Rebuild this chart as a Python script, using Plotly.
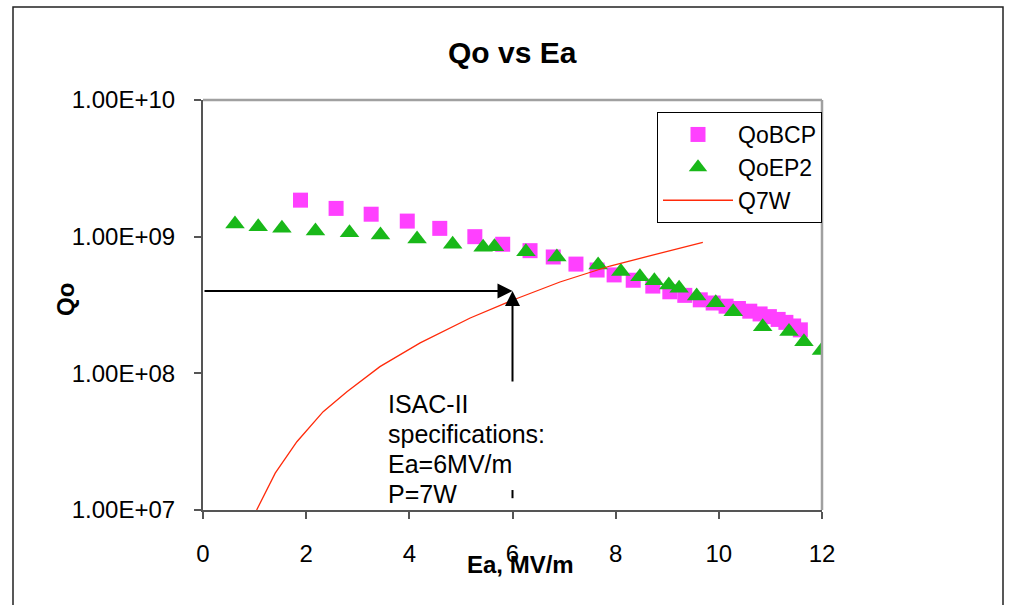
import math
import plotly.graph_objects as go

# ---------------- data ----------------
ea_bcp = [1.89, 2.58, 3.26, 3.96, 4.59, 5.27, 5.81, 6.34, 6.79, 7.23, 7.64, 7.97,
          8.34, 8.72, 9.05, 9.34, 9.64, 9.89, 10.14, 10.38, 10.60, 10.80, 10.98,
          11.15, 11.30, 11.45, 11.58]
qo_bcp = [1.85e9, 1.61e9, 1.46e9, 1.30e9, 1.15e9, 1.00e9, 8.8e8, 7.9e8, 7.1e8,
          6.3e8, 5.7e8, 5.25e8, 4.8e8, 4.35e8, 3.95e8, 3.72e8, 3.45e8, 3.27e8,
          3.1e8, 2.98e8, 2.85e8, 2.72e8, 2.6e8, 2.48e8, 2.36e8, 2.22e8, 2.08e8]

ea_ep2 = [0.62, 1.07, 1.53, 2.18, 2.84, 3.44, 4.15, 4.84, 5.43, 5.65, 6.26, 6.86,
          7.66, 8.10, 8.47, 8.75, 9.03, 9.23, 9.57, 9.94, 10.28, 10.85, 11.36,
          11.65, 11.99]
qo_ep2 = [1.24e9, 1.18e9, 1.15e9, 1.10e9, 1.07e9, 1.03e9, 9.6e8, 8.8e8, 8.35e8,
          8.45e8, 7.75e8, 7.1e8, 6.2e8, 5.55e8, 5.1e8, 4.75e8, 4.43e8, 4.2e8,
          3.68e8, 3.29e8, 2.82e8, 2.19e8, 2.02e8, 1.70e8, 1.47e8]

ea_q7w = [1.04, 1.40, 1.82, 2.33, 2.79, 3.43, 4.21, 5.18, 6.01, 6.92, 7.89, 8.86, 9.69]
qo_q7w = [1.0e7, 1.86e7, 3.16e7, 5.24e7, 7.34e7, 1.12e8, 1.67e8, 2.54e8, 3.44e8,
          4.66e8, 6.10e8, 7.6e8, 9.1e8]

y_tickvals = [1e7, 1e8, 1e9, 1e10]
y_ticktext = ["1.00E+07", "1.00E+08", "1.00E+09", "1.00E+10"]
x_tickvals = [0, 2, 4, 6, 8, 10, 12]

note_lines = ["ISAC-II", "specifications:", "Ea=6MV/m", "P=7W"]

# specification marker (ISAC-II spec)
SPEC_EA = 6.0
SPEC_QO = 4.0e8
ARROW_TAIL_QO = 8.5e7
DASH_QO = [1.22e7, 1.40e7]

FONT = "Liberation Sans, Arial, sans-serif"

fig = go.Figure()

fig.add_trace(go.Scatter(
    x=ea_bcp, y=qo_bcp, mode="markers", name="QoBCP", legendgroup="a",
    marker=dict(symbol="square", size=15, color="#FF40FF"),
))
fig.add_trace(go.Scatter(
    x=ea_ep2, y=qo_ep2, mode="markers", name="QoEP2", legendgroup="b",
    marker=dict(symbol="triangle-up", size=17, color="#19B819"),
))
fig.add_trace(go.Scatter(
    x=ea_q7w, y=qo_q7w, mode="lines", name="Q7W", legendgroup="c",
    line=dict(color="#FF2A0A", width=1.3),
))
# small dash of the vertical spec line near the bottom
fig.add_trace(go.Scatter(
    x=[SPEC_EA, SPEC_EA], y=DASH_QO, mode="lines", showlegend=False,
    line=dict(color="black", width=2), hoverinfo="skip",
))

W, H = 1011, 605
L, R, T, B = 203, 822, 100, 510
pw, ph = R - L, B - T


def px(xp):
    return (xp - L) / pw


def py(yp):
    return (B - yp) / ph


annotations = [
    # horizontal arrow
    dict(x=SPEC_EA, y=math.log10(SPEC_QO), ax=0, ay=math.log10(SPEC_QO),
         xref="x", yref="y", axref="x", ayref="y", text="", showarrow=True,
         arrowhead=2, arrowsize=1.5, arrowwidth=2, arrowcolor="black"),
    # vertical arrow
    dict(x=SPEC_EA, y=math.log10(SPEC_QO), ax=SPEC_EA, ay=math.log10(ARROW_TAIL_QO),
         xref="x", yref="y", axref="x", ayref="y", text="", showarrow=True,
         arrowhead=2, arrowsize=1.5, arrowwidth=2, arrowcolor="black"),
    dict(x=px(65), y=py(300), xref="paper", yref="paper", showarrow=False,
         xanchor="center", yanchor="middle",
         text="<b>Qo</b>", textangle=-90,
         font=dict(family=FONT, size=24, color="black")),
    dict(x=px(520), y=py(564), xref="paper", yref="paper", showarrow=False,
         xanchor="center", yanchor="middle",
         text="<b>Ea, MV/m</b>",
         font=dict(family=FONT, size=24, color="black")),
    dict(x=0.5, y=py(53), xref="paper", yref="paper", showarrow=False,
         xanchor="center", yanchor="middle",
         text="<b>Qo vs Ea</b>",
         font=dict(family=FONT, size=30, color="black")),
]
note_y = [404, 434, 464, 494]
for line_text, yy in zip(note_lines, note_y):
    annotations.append(dict(
        x=px(386), y=py(yy), xref="paper", yref="paper", xanchor="left",
        yanchor="middle", showarrow=False, text=line_text,
        font=dict(family=FONT, size=25, color="black")))

shapes = [
    # outer chart border
    dict(type="rect", xref="paper", yref="paper", x0=px(13), x1=px(1003),
         y0=py(612), y1=py(7), line=dict(color="#222222", width=1.5)),
    # top & right plot-area border (grey)
    dict(type="line", xref="paper", yref="paper", x0=0, x1=1, y0=1, y1=1,
         line=dict(color="#A0A0A0", width=2.5)),
    dict(type="line", xref="paper", yref="paper", x0=1, x1=1, y0=0, y1=1,
         line=dict(color="#A0A0A0", width=2.5)),
]

fig.update_layout(
    width=W, height=H,
    margin=dict(l=L, r=W - R, t=T, b=H - B, pad=0),
    paper_bgcolor="white", plot_bgcolor="white",
    font=dict(family=FONT, size=24, color="black"),
    showlegend=True,
    legend=dict(x=px(657), y=py(112), xanchor="left", yanchor="top",
                bgcolor="white", bordercolor="black", borderwidth=1,
                font=dict(family=FONT, size=23, color="black"),
                itemwidth=70, tracegroupgap=4, traceorder="normal",
                entrywidth=100, entrywidthmode="pixels"),
    annotations=annotations,
    shapes=shapes,
    xaxis=dict(range=[0, 12], tickvals=x_tickvals, showgrid=False, zeroline=False,
               showline=True, linecolor="#555555", linewidth=2,
               ticks="outside", ticklen=7, tickwidth=2, tickcolor="#555555",
               ticklabelstandoff=14,
               tickfont=dict(family=FONT, size=24, color="black")),
    yaxis=dict(type="log", range=[7, 10], tickvals=y_tickvals, ticktext=y_ticktext,
               showgrid=False, zeroline=False,
               showline=True, linecolor="#555555", linewidth=2,
               ticks="outside", ticklen=7, tickwidth=2, tickcolor="#555555",
               ticklabelstandoff=14,
               tickfont=dict(family=FONT, size=24, color="black")),
)

fig.write_html("out.html")
